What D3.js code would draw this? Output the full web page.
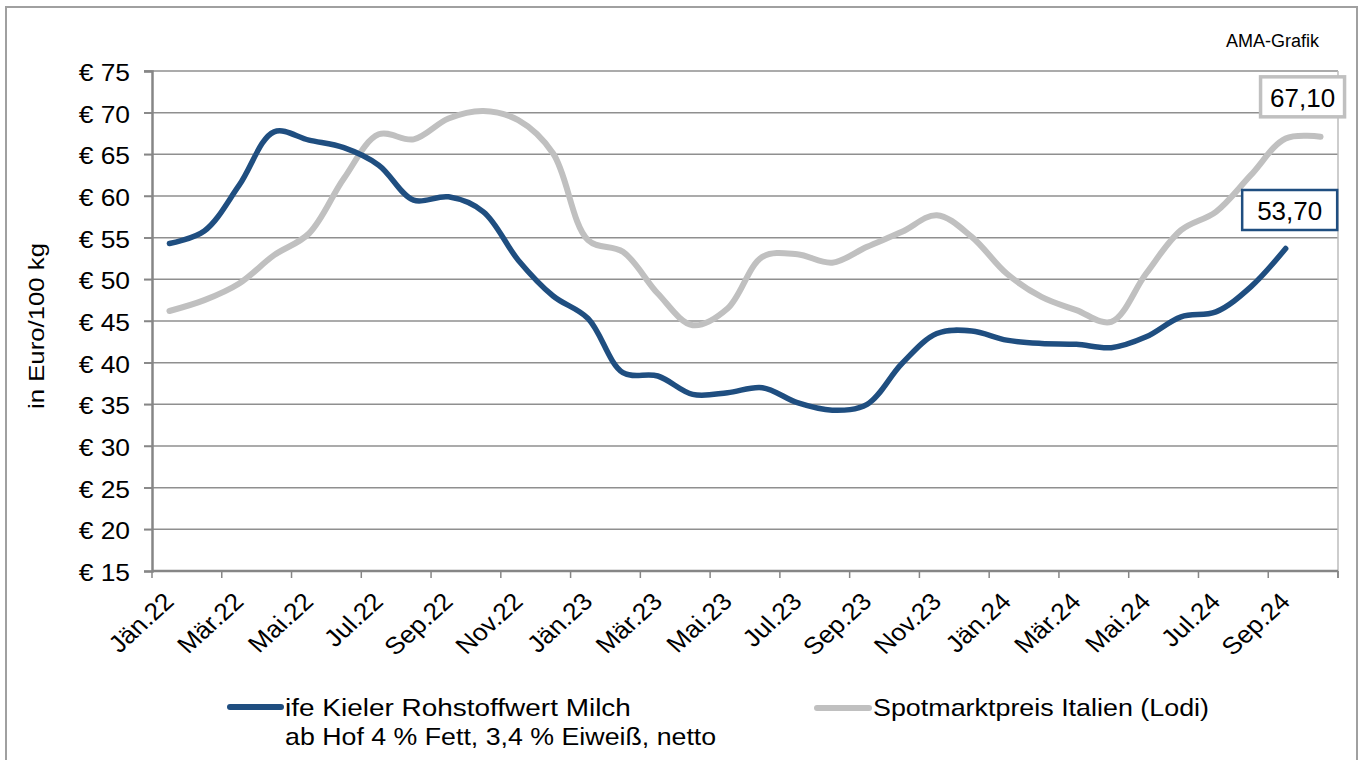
<!DOCTYPE html>
<html>
<head>
<meta charset="utf-8">
<script src="https://cdn.jsdelivr.net/npm/d3@7"></script>
<style>
  html, body { margin: 0; padding: 0; background: #fff; }
  svg { display: block; font-family: "Liberation Sans", Arial, sans-serif; }
</style>
</head>
<body>
<svg id="chart" width="1364" height="760"></svg>
<script>
// ---------- data ----------
const months = ["Jän.22","Feb.22","Mär.22","Apr.22","Mai.22","Jun.22","Jul.22","Aug.22","Sep.22","Okt.22","Nov.22","Dez.22",
                "Jän.23","Feb.23","Mär.23","Apr.23","Mai.23","Jun.23","Jul.23","Aug.23","Sep.23","Okt.23","Nov.23","Dez.23",
                "Jän.24","Feb.24","Mär.24","Apr.24","Mai.24","Jun.24","Jul.24","Aug.24","Sep.24","Okt.24"];
const tickLabels = ["Jän.22","Mär.22","Mai.22","Jul.22","Sep.22","Nov.22","Jän.23","Mär.23","Mai.23","Jul.23","Sep.23","Nov.23",
                    "Jän.24","Mär.24","Mai.24","Jul.24","Sep.24"];
const kielValues = [54.3,55.8,61.3,67.7,66.7,65.8,63.7,59.5,59.9,58.1,52.3,48.0,
                    45.3,38.8,38.4,36.2,36.4,37.0,35.2,34.3,35.0,39.9,43.5,43.8,
                    42.7,42.3,42.2,41.8,43.1,45.5,46.1,49.1,53.7,null];
const lodiValues = [46.2,47.5,49.5,52.9,55.5,62.1,67.4,66.8,69.3,70.2,69.1,65.1,
                    54.7,53.3,48.3,44.5,46.5,52.7,53.0,52.0,53.9,55.7,57.7,55.1,
                    50.7,47.9,46.3,44.9,50.7,55.9,58.1,62.5,66.9,67.1];
const yTicks = [15,20,25,30,35,40,45,50,55,60,65,70,75];
const seriesNames = ["ife Kieler Rohstoffwert Milch", "ab Hof 4 % Fett, 3,4 % Eiweiß, netto", "Spotmarktpreis Italien (Lodi)"];
const lastLabels = ["53,70", "67,10"];
const yTitle = "in Euro/100 kg";
const source = "AMA-Grafik";

// ---------- layout ----------
const svg = d3.select("#chart");
const pL = 152, pR = 1338, pT = 71, pB = 571;
const BLUE = "#1f4e80", GREY = "#c0c0c0", GRID = "#8f8f8f", AXIS = "#868686";

const x = d3.scaleBand().domain(months).range([pL, pR]).paddingInner(0).paddingOuter(0);
const cx = m => x(m) + x.bandwidth() / 2;
const y = d3.scaleLinear().domain([15, 75]).range([pB, pT]);

// outer frame
svg.append("rect").attr("x", 6).attr("y", 7).attr("width", 1351).attr("height", 770)
   .attr("fill", "none").attr("stroke", "#a0a0a0").attr("stroke-width", 2);

// horizontal gridlines (from tick start)
svg.append("g").selectAll("line").data(yTicks.slice(1)).join("line")
   .attr("x1", pL - 8).attr("x2", pR)
   .attr("y1", d => y(d)).attr("y2", d => y(d))
   .attr("stroke", GRID).attr("stroke-width", 1.5);

// plot area right border
svg.append("line").attr("x1", pR).attr("x2", pR).attr("y1", pT).attr("y2", pB)
   .attr("stroke", "#bdbdbd").attr("stroke-width", 1.5);

// y axis
const yAxis = d3.axisLeft(y).tickValues(yTicks).tickSize(8).tickFormat(d => "€ " + d);
const gy = svg.append("g").attr("transform", `translate(${pL},0)`).call(yAxis);
gy.select(".domain").attr("stroke", AXIS).attr("stroke-width", 2.5);
gy.selectAll(".tick line").attr("stroke", AXIS).attr("stroke-width", 1.5);
gy.selectAll(".tick text").attr("font-size", 24).attr("fill", "#000")
  .attr("x", 0).attr("dy", null).attr("text-anchor", "end").attr("dominant-baseline", "central")
  .attr("transform", "translate(-22,1) scale(1.1,1)");

// x axis: ticks at category boundaries every 2 months
const boundaries = d3.range(0, months.length + 1, 2).map(i => pL + i * x.bandwidth());
const xg = svg.append("g");
xg.append("line").attr("x1", pL).attr("x2", pR).attr("y1", pB).attr("y2", pB)
  .attr("stroke", AXIS).attr("stroke-width", 2.5);
xg.selectAll("line.tk").data(boundaries.concat([pR])).join("line").attr("class", "tk")
  .attr("x1", d => d).attr("x2", d => d).attr("y1", pB).attr("y2", pB + 7)
  .attr("stroke", AXIS).attr("stroke-width", 1.5);
xg.selectAll("text").data(tickLabels).join("text")
  .attr("transform", d => `translate(${cx(d) + 6},${pB + 32}) scale(1.1,1) rotate(-45)`)
  .attr("text-anchor", "end").attr("font-size", 24).attr("fill", "#000")
  .text(d => d);

// y title
svg.append("text").attr("transform", "translate(44,326) rotate(-90) scale(1.12,1)")
   .attr("text-anchor", "middle").attr("font-size", 23).attr("fill", "#000").text(yTitle);

// source
svg.append("text").attr("x", 1226).attr("y", 47).attr("font-size", 18).attr("fill", "#000").text(source);

// lines
const line = d3.line().defined(d => d.v != null)
  .x(d => cx(d.m)).y(d => y(d.v)).curve(d3.curveCatmullRom.alpha(0.5));
const lodiData = months.map((m, i) => ({m, v: lodiValues[i]}));
const kielData = months.map((m, i) => ({m, v: kielValues[i]}));
svg.append("path").datum(lodiData).attr("d", line).attr("fill", "none")
   .attr("stroke", GREY).attr("stroke-width", 6).attr("stroke-linecap", "round").attr("stroke-linejoin", "round");
svg.append("path").datum(kielData).attr("d", line).attr("fill", "none")
   .attr("stroke", BLUE).attr("stroke-width", 5.5).attr("stroke-linecap", "round").attr("stroke-linejoin", "round");

// end labels
function endLabel(data, text, dx, dy, color, sw, w) {
  const last = data.filter(d => d.v != null).slice(-1)[0];
  const px = cx(last.m) + dx, py = y(last.v) + dy;
  const g = svg.append("g").attr("transform", `translate(${px},${py})`);
  const h = 40;
  g.append("rect").attr("x", -w / 2).attr("y", -h / 2).attr("width", w).attr("height", h)
   .attr("fill", "#fff").attr("stroke", color).attr("stroke-width", sw);
  g.append("text").attr("text-anchor", "middle").attr("dominant-baseline", "central").attr("y", 1)
   .attr("font-size", 26).attr("fill", "#000").text(text);
}
endLabel(kielData, lastLabels[0], 4, -38.5, BLUE, 2.5, 95);
endLabel(lodiData, lastLabels[1], -18, -40, GREY, 3.5, 84);

// legend
const lg = svg.append("g");
lg.append("line").attr("x1", 230).attr("x2", 281).attr("y1", 707).attr("y2", 707)
  .attr("stroke", BLUE).attr("stroke-width", 6).attr("stroke-linecap", "round");
lg.append("text").attr("transform", "translate(285,716) scale(1.165,1)").attr("font-size", 24).text(seriesNames[0]);
lg.append("text").attr("transform", "translate(285,745) scale(1.115,1)").attr("font-size", 24).text(seriesNames[1]);
lg.append("line").attr("x1", 817).attr("x2", 869).attr("y1", 708).attr("y2", 708)
  .attr("stroke", GREY).attr("stroke-width", 6).attr("stroke-linecap", "round");
lg.append("text").attr("transform", "translate(873,716) scale(1.12,1)").attr("font-size", 24).text(seriesNames[2]);
</script>
</body>
</html>
